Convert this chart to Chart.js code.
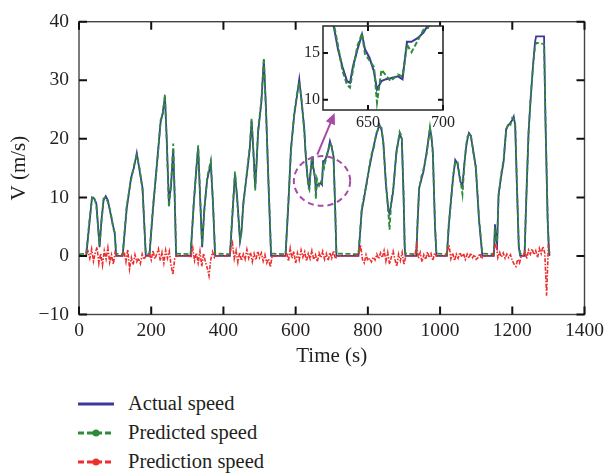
<!DOCTYPE html>
<html>
<head>
<meta charset="utf-8">
<script src="https://cdn.jsdelivr.net/npm/chart.js@4/dist/chart.umd.min.js"></script>
<style>
  body { margin: 0; background: #fff; width: 609px; height: 475px; overflow: hidden; position: relative; font-family: "Liberation Serif", serif; }
  #main { position: absolute; left: 0; top: 0; }
  #inset { position: absolute; left: 290px; top: 10px; }
  #legend { position: absolute; left: 78px; top: 389px; font-size: 20.5px; color: #231f20; }
  .row { height: 29px; display: flex; align-items: center; }
  .row svg { margin-right: 14px; }
</style>
</head>
<body>
<canvas id="main" width="609" height="370"></canvas>
<canvas id="inset" width="178" height="125"></canvas>
<div id="legend">
  <div class="row"><svg width="36" height="10"><line x1="0" y1="5" x2="36" y2="5" stroke="#3b3a98" stroke-width="3"/></svg>Actual speed</div>
  <div class="row"><svg width="36" height="10"><line x1="0" y1="5" x2="36" y2="5" stroke="#2f8a3c" stroke-width="3" stroke-dasharray="6,3"/><circle cx="18" cy="5" r="3.5" fill="#2f8a3c"/></svg>Predicted speed</div>
  <div class="row"><svg width="36" height="10"><line x1="0" y1="5" x2="36" y2="5" stroke="#ee2d2d" stroke-width="3" stroke-dasharray="6,3"/><circle cx="18" cy="5" r="3.5" fill="#ee2d2d"/></svg>Prediction speed</div>
</div>
<script>
// time stamps (s) of the speed traces
const timeS = [
  0, 20, 28, 36, 42, 48, 57, 62, 68, 74, 80, 88, 95, 99, 103,
  121, 132, 144, 152, 160, 168, 176, 185,
  195, 205, 217, 226, 232, 238, 243, 249, 255, 261, 265, 269,
  309, 318, 325, 330, 336, 341, 347, 355, 365, 371, 377,
  418, 425, 432, 438, 446, 450, 455, 465, 473, 478, 483, 488, 492, 496, 505, 512, 518, 525, 532,
  572, 580, 587, 596, 603, 610, 617, 624, 627, 630, 633, 636, 638, 640, 643, 646, 648, 651, 654, 656,
  659, 662, 665, 670, 673, 676, 679, 683, 687, 690, 695, 700, 705, 709, 713,
  774, 783, 790, 797, 804, 811, 817, 823, 832, 838, 843, 850, 857, 860, 865, 870, 879, 888, 894, 899, 902, 904,
  934, 938, 942, 948, 954, 963, 972, 976, 980, 986, 990,
  1019, 1024, 1030, 1036, 1042, 1048, 1056, 1062, 1067, 1072, 1076, 1080, 1085, 1092, 1099, 1108, 1117,
  1149, 1152, 1155, 1158, 1162, 1169, 1176, 1183, 1189, 1195, 1200, 1204, 1208, 1213, 1218, 1222,
  1234, 1238, 1245, 1250, 1254, 1258, 1263, 1266, 1288, 1292, 1298, 1301, 1303
];
const actualSpeed = [
  0, 0, 5, 10, 9.8, 9, 1.5, 6, 9.5, 10.2, 9.5, 7, 5, 3.8, 0,
  0, 8, 13.3, 15, 17.6, 14.5, 11.6, 0,
  0, 8, 16.6, 22.8, 24.5, 27.2, 20, 9, 12, 18.3, 10, 0,
  0, 9, 15, 18.5, 9, 1.5, 8, 13, 15.8, 9, 0,
  0, 7, 14, 10, 2.5, 4, 9, 14, 18.3, 23.1, 18, 11.6, 16, 21.1, 26.2, 33.5, 25, 12, 0,
  0, 9, 18.3, 24, 27, 30.2, 26, 21.7, 18, 15.4, 13.5, 12, 11.8, 13.6, 15.4, 17, 15.4, 14.5, 13, 11.1,
  12, 12.2, 12.3, 12.5, 12.2, 16.2, 16.2, 16.6, 17.2, 18, 19.6, 18.5, 17, 9, 0,
  0, 7.7, 10, 12.7, 15, 17.2, 19, 20.6, 22.4, 21.5, 19.4, 12.2, 7.7, 7.2, 9, 11, 17.8, 20.8, 20, 10, 1.5, 0,
  0, 6, 11.6, 13, 14.4, 17.8, 21.7, 20.5, 17.8, 4.9, 0,
  0, 5, 9.4, 13.3, 16.4, 15.8, 12.7, 12, 15.6, 18.5, 20, 21, 20.5, 18, 15, 6, 0,
  0, 5.4, 3, 2, 10.5, 13.5, 16.1, 21.7, 22.3, 22.8, 23.2, 23.8, 22.3, 11.6, 1.5, 0,
  0, 8.2, 21.1, 26, 29.5, 33, 36.5, 37.5, 37.5, 22.8, 6, 1.5, 0
];
const predictedSpeed = [
  0.3, 0.4, 5.6, 9.7, 10.1, 8.6, 1.9, 5.5, 9.8, 10.0, 9.2, 7.4, 4.6, 4.1, 0.4,
  0.3, 8.5, 12.9, 15.4, 17.2, 14.9, 11.2, 0.4,
  0.3, 8.6, 16.1, 23.2, 24.1, 27.6, 19.4, 8.3, 12.5, 19.2, 10.6, 0.4,
  0.3, 9.4, 14.6, 18.9, 9.5, 1.9, 7.6, 13.4, 16.3, 9.4, 0.4,
  0.3, 7.5, 14.4, 9.6, 2.9, 4.4, 8.6, 14.3, 18.7, 23.4, 17.6, 11.2, 16.5, 21.5, 26.6, 33.8, 24.5, 12.4, 0.4,
  0.3, 9.5, 17.8, 24.4, 27.4, 29.7, 26.4, 21.2, 18.3, 15.8, 13.1, 11.6, 11.3, 13.2, 15.8, 17.1, 14.9, 14.2, 13.5, 9.7,
  13.2, 12.6, 12.0, 12.7, 12.5, 15.9, 15.1, 16.3, 17.5, 17.7, 19.3, 18.8, 16.6, 9.4, 0.4,
  0.3, 8.1, 10.4, 12.3, 15.4, 17.6, 18.6, 20.9, 22.1, 21.9, 19.0, 12.6, 7.2, 4.5, 9.4, 11.4, 17.4, 21.2, 20.4, 10.4, 1.8, 0.4,
  0.3, 6.5, 11.2, 13.5, 14.8, 17.4, 22.0, 20.1, 17.4, 5.3, 0.4,
  0.3, 5.5, 9.0, 13.7, 16.0, 16.2, 13.1, 10.5, 15.2, 18.9, 20.4, 20.7, 20.9, 17.6, 15.4, 6.4, 0.4,
  0.3, 4.2, 3.4, 2.4, 10.1, 13.9, 16.5, 21.3, 22.7, 22.4, 23.6, 23.4, 22.7, 12.0, 1.9, 0.4,
  0.3, 8.6, 20.7, 26.4, 29.9, 32.6, 35.8, 36.4, 36.2, 23.2, 6.4, 1.9, 0.4
];
// prediction error, one sample every 5 s from t = 0
const errorSpeed = [
  0, 0, 0, 0, 0.3, 0.8, -0.4, 1.2, -0.9, 0.5, 1.5, -1.3, 0.4, -1.6, 0.9, -0.5, 1.4, -1.1, 0.2, -1.4, 0.6,
  0, 0, 0, 0, 0.7, -1.0, 1.1, -2.2, -0.3, -1.5, 0.2, -1.0, -0.4, -1.3, 0.3, -0.6,
  0, 0, 0.4, -0.7, 0.9, -0.5, 0.3, 1.2, -0.8, 0.6, -1.2, 1.0, -0.4, 0.8, -1.6, -3.2, -0.5,
  0, 0, 0, 0, 0, 0, 0, 0, -0.3, 1.4, -0.8, 0.5, -1.2, 0.8, -1.8, 0.4, -1.0, -2.0, -3.4, -0.6, 0.7, -0.3,
  0, 0, 0, 0, 0, 0, 0, 0, 1.0, 2.2, -0.5, 0.9, -1.1, 0.6, -0.8, 0.3, -0.6, 1.1, -0.4, 0.6, -1.0, 0.4,
  -0.7, 0.8, -0.3, 0.5, -0.9, 0.2, -1.2, -0.5, -1.9,
  0, 0, 0, 0, 0, 0, 0, 0, 0.6, -0.9, 1.3, -0.4, 0.8, -1.3, 0.5, -0.7, 1.0, -0.2, 0.7, -0.9, 0.4, -0.5,
  0.9, -0.6, 0.2, -1.0, 0.5, -0.3, 0.8, -0.6, 0.4, -0.8, 0.6, -0.4, 0.9, -0.5,
  0, 0, 0, 0, 0, 0, 0, 0, 0, 0, 0, 0, 0.4, 1.8, -0.6, -1.2, 0.2, -0.8, -0.4, -1.0, -0.2, -0.7, 0.3, -0.5,
  0.5, -0.3, 0.9, -0.9, 0.6, -1.4, -0.2, 0.8, -0.6, -1.8, 0.3, -0.8, 0.6, -1.5,
  0, 0, 0, 0, 0, 0, 1.9, -0.4, 0.6, -1.0, 0.2, -0.6, 0.7, -0.3, 0.4, -0.8, 0.5,
  0, 0, 0, 0, 0, 0, 0.9, 1.8, -0.5, 0.5, -0.8, 0.3, -0.4, 0.6, -0.2, 0.4, -0.6, 0.3, -0.4, 0.5, -0.3, 0.2,
  -0.6, -0.3, 0.4, -0.5,
  0, 0, 0, 0, 0, 0, 1.2, 2.2, -0.3, 0.6, -0.2, 0.5, -0.4, 0.3, -0.3, 0.2, -0.8, -1.4, -1.8, -0.6, -1.2,
  0, 0, 0.8, -0.5, 1.0, 0.3, 1.2, 0.2, 0.9, -0.3, 1.3, 0.4, 1.6, 0.5, -6.8, 2.0
];
const errorTime = errorSpeed.map((v, i) => i * 5);

const xTicks = [0, 200, 400, 600, 800, 1000, 1200, 1400];
const yTicks = [-10, 0, 10, 20, 30, 40];
const insetXTicks = [650, 700];
const insetYTicks = [10, 15];

const BLUE = "#3b3a98", GREEN = "#2f8a3c", RED = "#ee2d2d", PINK = "#a94aa6";
const FONT = "Liberation Serif";

const actualPts = timeS.map((t, i) => ({ x: t, y: actualSpeed[i] }));
const predPts = timeS.map((t, i) => ({ x: t, y: predictedSpeed[i] }));
const errPts = errorTime.map((t, i) => ({ x: t, y: errorSpeed[i] }));

// box round the plot with inward tick marks on all four sides
const frame = {
  id: "frame",
  beforeDraw(chart, args, opts) {
    if (!opts.fill) return;
    const a = chart.chartArea, ctx = chart.ctx;
    ctx.save();
    ctx.fillStyle = opts.fill;
    ctx.fillRect(a.left, a.top, a.right - a.left, a.bottom - a.top);
    ctx.restore();
  },
  afterDraw(chart, args, opts) {
    const { ctx, chartArea: a, scales: { x, y } } = chart;
    ctx.save();
    ctx.strokeStyle = opts.color;
    ctx.lineWidth = opts.width;
    ctx.strokeRect(a.left, a.top, a.right - a.left, a.bottom - a.top);
    ctx.strokeStyle = "#111";
    ctx.lineWidth = 2;
    ctx.beginPath();
    x.ticks.forEach(t => {
      const p = x.getPixelForValue(t.value);
      ctx.moveTo(p, a.bottom); ctx.lineTo(p, a.bottom - opts.len);
      ctx.moveTo(p, a.top); ctx.lineTo(p, a.top + opts.len);
    });
    y.ticks.forEach(t => {
      const p = y.getPixelForValue(t.value);
      ctx.moveTo(a.left, p); ctx.lineTo(a.left + opts.len, p);
      ctx.moveTo(a.right, p); ctx.lineTo(a.right - opts.len, p);
    });
    ctx.stroke();
    ctx.restore();
  }
};

// dashed ellipse round the zoomed part and the arrow to the inset
const callout = {
  id: "callout",
  afterDatasetsDraw(chart) {
    const { ctx, scales: { x, y } } = chart;
    const cx = x.getPixelForValue(673), cy = y.getPixelForValue(12.8);
    const rx = x.getPixelForValue(673 + 78) - cx, ry = cy - y.getPixelForValue(12.8 + 4.25);
    ctx.save();
    ctx.strokeStyle = PINK;
    ctx.fillStyle = PINK;
    ctx.lineWidth = 2;
    ctx.setLineDash([6, 4]);
    ctx.beginPath();
    ctx.ellipse(cx, cy, rx, ry, 0, 0, Math.PI * 2);
    ctx.stroke();
    ctx.setLineDash([]);
    const x0 = x.getPixelForValue(660), y0 = y.getPixelForValue(17.3);
    const x1 = x.getPixelForValue(708), y1 = y.getPixelForValue(24.4);
    const ang = Math.atan2(y1 - y0, x1 - x0);
    ctx.beginPath();
    ctx.moveTo(x0, y0);
    ctx.lineTo(x1 - 8 * Math.cos(ang), y1 - 8 * Math.sin(ang));
    ctx.stroke();
    ctx.beginPath();
    ctx.moveTo(x1, y1);
    ctx.lineTo(x1 - 11 * Math.cos(ang) + 5 * Math.sin(ang), y1 - 11 * Math.sin(ang) - 5 * Math.cos(ang));
    ctx.lineTo(x1 - 11 * Math.cos(ang) - 5 * Math.sin(ang), y1 - 11 * Math.sin(ang) + 5 * Math.cos(ang));
    ctx.closePath();
    ctx.fill();
    ctx.restore();
  }
};

// lower order is drawn on top: red, then green dashes over the blue line
function traces(w) {
  return [
    { label: "Actual speed", data: actualPts, borderColor: BLUE, borderWidth: w, pointRadius: 0, order: 3 },
    { label: "Predicted speed", data: predPts, borderColor: GREEN, borderWidth: w, borderDash: [5, 2.5], pointRadius: 0, order: 2 },
    { label: "Prediction speed", data: errPts, borderColor: RED, borderWidth: 1.6, borderDash: [4, 1.5, 1.5, 1.5], pointRadius: 0, order: 1 }
  ];
}

new Chart(document.getElementById("main"), {
  type: "line",
  data: { datasets: traces(1.8) },
  options: {
    responsive: false,
    animation: false,
    layout: { padding: { top: 19, right: 20.5 } },
    plugins: {
      legend: { display: false },
      tooltip: { enabled: false },
      frame: { color: "#444", width: 1.4, len: 8 }
    },
    scales: {
      x: {
        type: "linear", min: 0, max: 1400,
        afterBuildTicks: s => { s.ticks = xTicks.map(v => ({ value: v })); },
        afterFit: s => { s.height = 55.5; },
        grid: { display: false, drawTicks: false },
        border: { display: false },
        ticks: { color: "#231f20", font: { family: FONT, size: 19.5 }, padding: 5, maxRotation: 0, callback: v => String(v) },
        title: { display: true, text: "Time (s)", color: "#231f20", font: { family: FONT, size: 21 }, padding: { top: 0, bottom: 1 } }
      },
      y: {
        min: -10, max: 40,
        afterBuildTicks: s => { s.ticks = yTicks.map(v => ({ value: v })); },
        afterFit: s => { s.width = 79; },
        grid: { display: false, drawTicks: false },
        border: { display: false },
        ticks: { color: "#231f20", font: { family: FONT, size: 19.5 }, padding: 10, callback: v => String(v).replace("-", "\u2212") },
        title: { display: true, text: "V (m/s)", color: "#231f20", font: { family: FONT, size: 21 }, padding: { top: 7, bottom: 0 } }
      }
    }
  },
  plugins: [frame, callout]
});

new Chart(document.getElementById("inset"), {
  type: "line",
  data: { datasets: traces(2) },
  options: {
    responsive: false,
    animation: false,
    layout: { padding: { top: 16, right: 25 } },
    plugins: {
      legend: { display: false },
      tooltip: { enabled: false },
      frame: { color: "#333", width: 1.6, len: 5, fill: "#fff" }
    },
    scales: {
      x: {
        type: "linear", min: 620, max: 700,
        afterBuildTicks: s => { s.ticks = insetXTicks.map(v => ({ value: v })); },
        afterFit: s => { s.height = 25; },
        grid: { display: false, drawTicks: false },
        border: { display: false },
        ticks: { color: "#231f20", font: { family: FONT, size: 16 }, padding: 3, maxRotation: 0, callback: v => String(v) }
      },
      y: {
        min: 8.9, max: 17.9,
        afterBuildTicks: s => { s.ticks = insetYTicks.map(v => ({ value: v })); },
        afterFit: s => { s.width = 33; },
        grid: { display: false, drawTicks: false },
        border: { display: false },
        ticks: { color: "#231f20", font: { family: FONT, size: 16 }, padding: 3 }
      }
    }
  },
  plugins: [frame]
});
</script>
</body>
</html>
